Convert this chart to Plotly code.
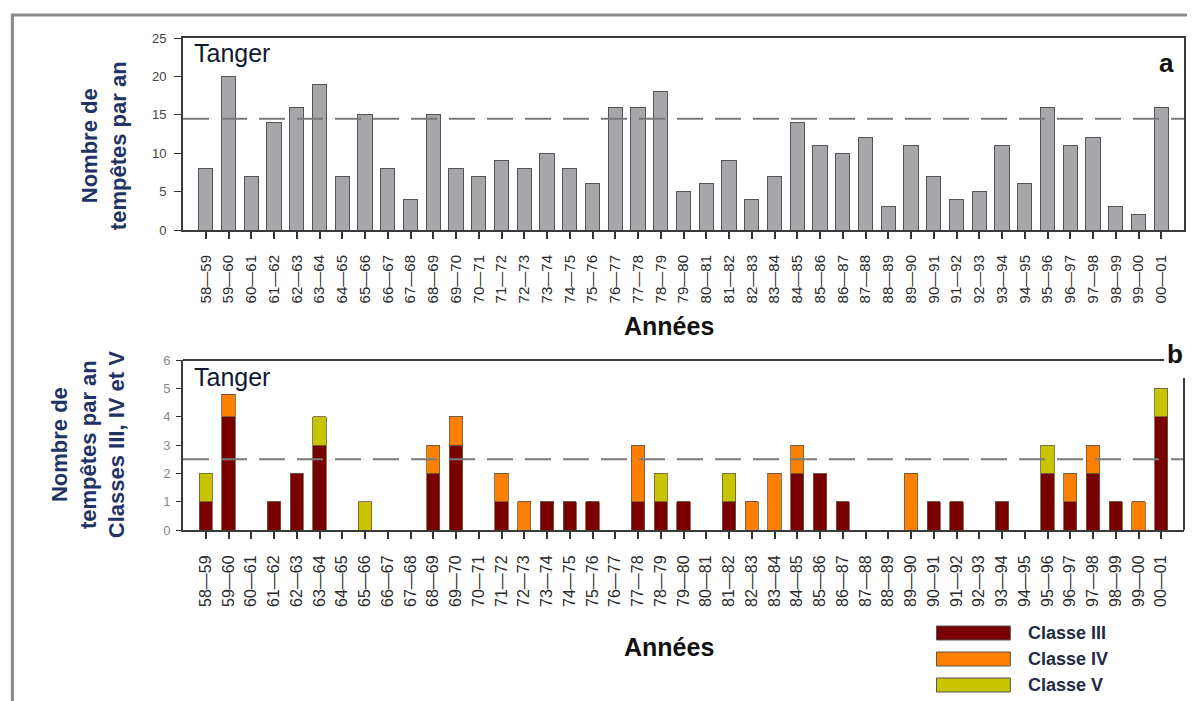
import plotly.graph_objects as go

years = ["58—59","59—60","60—61","61—62","62—63","63—64","64—65","65—66","66—67","67—68",
         "68—69","69—70","70—71","71—72","72—73","73—74","74—75","75—76","76—77","77—78",
         "78—79","79—80","80—81","81—82","82—83","83—84","84—85","85—86","86—87","87—88",
         "88—89","89—90","90—91","91—92","92—93","93—94","94—95","95—96","96—97","97—98",
         "98—99","99—00","00—01"]

total_storms = [8,20,7,14,16,19,7,15,8,4,
                15,8,7,9,8,10,8,6,16,16,
                18,5,6,9,4,7,14,11,10,12,
                3,11,7,4,5,11,6,16,11,12,
                3,2,16]

classe_III = [1,4,0,1,2,3,0,0,0,0,
              2,3,0,1,0,1,1,1,0,1,
              1,1,0,1,0,0,2,2,1,0,
              0,0,1,1,0,1,0,2,1,2,
              1,0,4]
classe_IV = [0,0.8,0,0,0,0,0,0,0,0,
             1,1,0,1,1,0,0,0,0,2,
             0,0,0,0,1,2,1,0,0,0,
             0,2,0,0,0,0,0,0,1,1,
             0,1,0]
classe_V = [1,0,0,0,0,1,0,1,0,0,
            0,0,0,0,0,0,0,0,0,0,
            1,0,0,1,0,0,0,0,0,0,
            0,0,0,0,0,0,0,1,0,0,
            0,0,1]

mean_total = 14.5
mean_classes = 2.5

class_names = ["Classe III", "Classe IV", "Classe V"]
class_colors = ["#7A0000", "#FF8000", "#C8C400"]

# page body has an 8px margin; work in reference-pixel coordinates and shift
OFF = 8
W, H = 1195 - 2 * OFF, 701 - OFF
L = 183 - OFF
T = 38 - OFF
PB = 530 - OFF          # plot-area bottom (figure px)
PR = 1186 - OFF         # plot-area right (figure px)
R = W - PR
B = H - PB
pw = W - L - R
ph = H - T - B

def px_x(px):
    return (px - OFF - L) / pw

def px_y(py):
    return (PB - (py - OFF)) / ph

fig = go.Figure()

fig.add_trace(go.Bar(x=years, y=total_storms, xaxis="x", yaxis="y", width=0.62,
                     marker=dict(color="#A7A7AB", line=dict(color="#555555", width=1)),
                     showlegend=False))

for name, vals, col in zip(class_names, [classe_III, classe_IV, classe_V], class_colors):
    fig.add_trace(go.Bar(x=years, y=vals, xaxis="x2", yaxis="y2", name=name, width=0.58,
                         marker=dict(color=col, line=dict(color="#6a5a40", width=0.8)),
                         showlegend=False))

line_col = "#3a3a3a"
axis_common = dict(showline=True, linecolor=line_col, linewidth=2,
                   showgrid=False, zeroline=False)

top_bottom = px_y(230)
bot_top = px_y(360)
xrange = [-1, len(years)]

fig.update_layout(
    width=W, height=H,
    margin=dict(l=L, r=R, t=T, b=B),
    paper_bgcolor="white", plot_bgcolor="white",
    barmode="stack",
    font=dict(family="Arial, Liberation Sans, sans-serif", color="#222222"),
    xaxis=dict(domain=[0, 1], anchor="y", type="category", range=xrange, tickangle=-90, mirror=True,
               ticks="outside", ticklen=7, tickcolor="#333333", tickwidth=2, ticklabelstandoff=10,
               tickfont=dict(size=15, color="#2a2a2a"), **axis_common),
    yaxis=dict(domain=[top_bottom, 1], anchor="x", range=[0, 25], dtick=5, mirror=True,
               ticks="outside", ticklen=7, tickcolor="#333333", ticklabelstandoff=5,
               tickfont=dict(size=13, color="#444444"), **axis_common),
    xaxis2=dict(domain=[0, 1], anchor="y2", type="category", range=xrange, tickangle=-90,
                ticks="outside", ticklen=7, tickcolor="#333333", tickwidth=2, ticklabelstandoff=10,
                tickfont=dict(size=16, color="#2a2a2a"), **axis_common),
    yaxis2=dict(domain=[0, bot_top], anchor="x2", range=[0, 6], dtick=1,
                ticks="outside", ticklen=5, tickcolor="#333333", ticklabelstandoff=3,
                tickfont=dict(size=13, color="#888888"), **axis_common),
)

# mean dashed lines
dash_style = "26px,12px"
fig.add_shape(type="line", xref="x domain", yref="y", x0=0, x1=1, y0=mean_total, y1=mean_total,
              line=dict(color="#7a7a7a", width=2, dash=dash_style), layer="above")
fig.add_shape(type="line", xref="x2 domain", yref="y2", x0=0, x1=1, y0=mean_classes, y1=mean_classes,
              line=dict(color="#7a7a7a", width=2, dash=dash_style), layer="above")

# bottom panel partial frame (top line stops before the "b", right line starts lower)
fig.add_shape(type="line", xref="paper", yref="paper",
              x0=px_x(183), x1=px_x(1166), y0=px_y(360), y1=px_y(360),
              line=dict(color=line_col, width=2))
fig.add_shape(type="line", xref="paper", yref="paper",
              x0=px_x(1186), x1=px_x(1186), y0=px_y(378), y1=px_y(530),
              line=dict(color=line_col, width=2))

# outer frame
fig.add_shape(type="path", xref="paper", yref="paper",
              path=f"M {px_x(12)} {px_y(720)} L {px_x(12)} {px_y(15)} L {px_x(1220)} {px_y(15)}",
              line=dict(color="#8a8a8a", width=3))

title_font = dict(family="Arial, Liberation Sans, sans-serif", size=22, color="#1F3364")

def ann(x, y, text, font, xanchor="center", textangle=0):
    return dict(x=px_x(x), y=px_y(y), xref="paper", yref="paper", text=text, showarrow=False,
                font=font, xanchor=xanchor, yanchor="middle", textangle=textangle)

annotations = [
    ann(104, 146, "<b>Nombre de<br>tempêtes par an</b>", title_font, textangle=-90),
    ann(88, 445, "<b>Nombre de<br>tempêtes par an<br>Classes III, IV et V</b>", title_font, textangle=-90),
    ann(670, 326, "<b>Années</b>", dict(size=25, color="#111111")),
    ann(670, 647, "<b>Années</b>", dict(size=25, color="#111111")),
    ann(192, 53, "Tanger", dict(size=25, color="#0f1a33"), xanchor="left"),
    ann(192, 377, "Tanger", dict(size=25, color="#0f1a33"), xanchor="left"),
    ann(1168, 63, "<b>a</b>", dict(size=26, color="#111111")),
    ann(1177, 354, "<b>b</b>", dict(size=26, color="#111111")),
]

# custom legend
leg_y = [633, 659, 685]
for name, col, yc in zip(class_names, class_colors, leg_y):
    fig.add_shape(type="rect", xref="paper", yref="paper",
                  x0=px_x(938), x1=px_x(1012), y0=px_y(yc - 7), y1=px_y(yc + 7),
                  fillcolor=col, line=dict(color="#555555", width=1))
    annotations.append(ann(1028, yc, f"<b>{name}</b>", dict(size=18, color="#1F2A44"), xanchor="left"))

fig.update_layout(annotations=annotations)

fig.write_html("out.html")
